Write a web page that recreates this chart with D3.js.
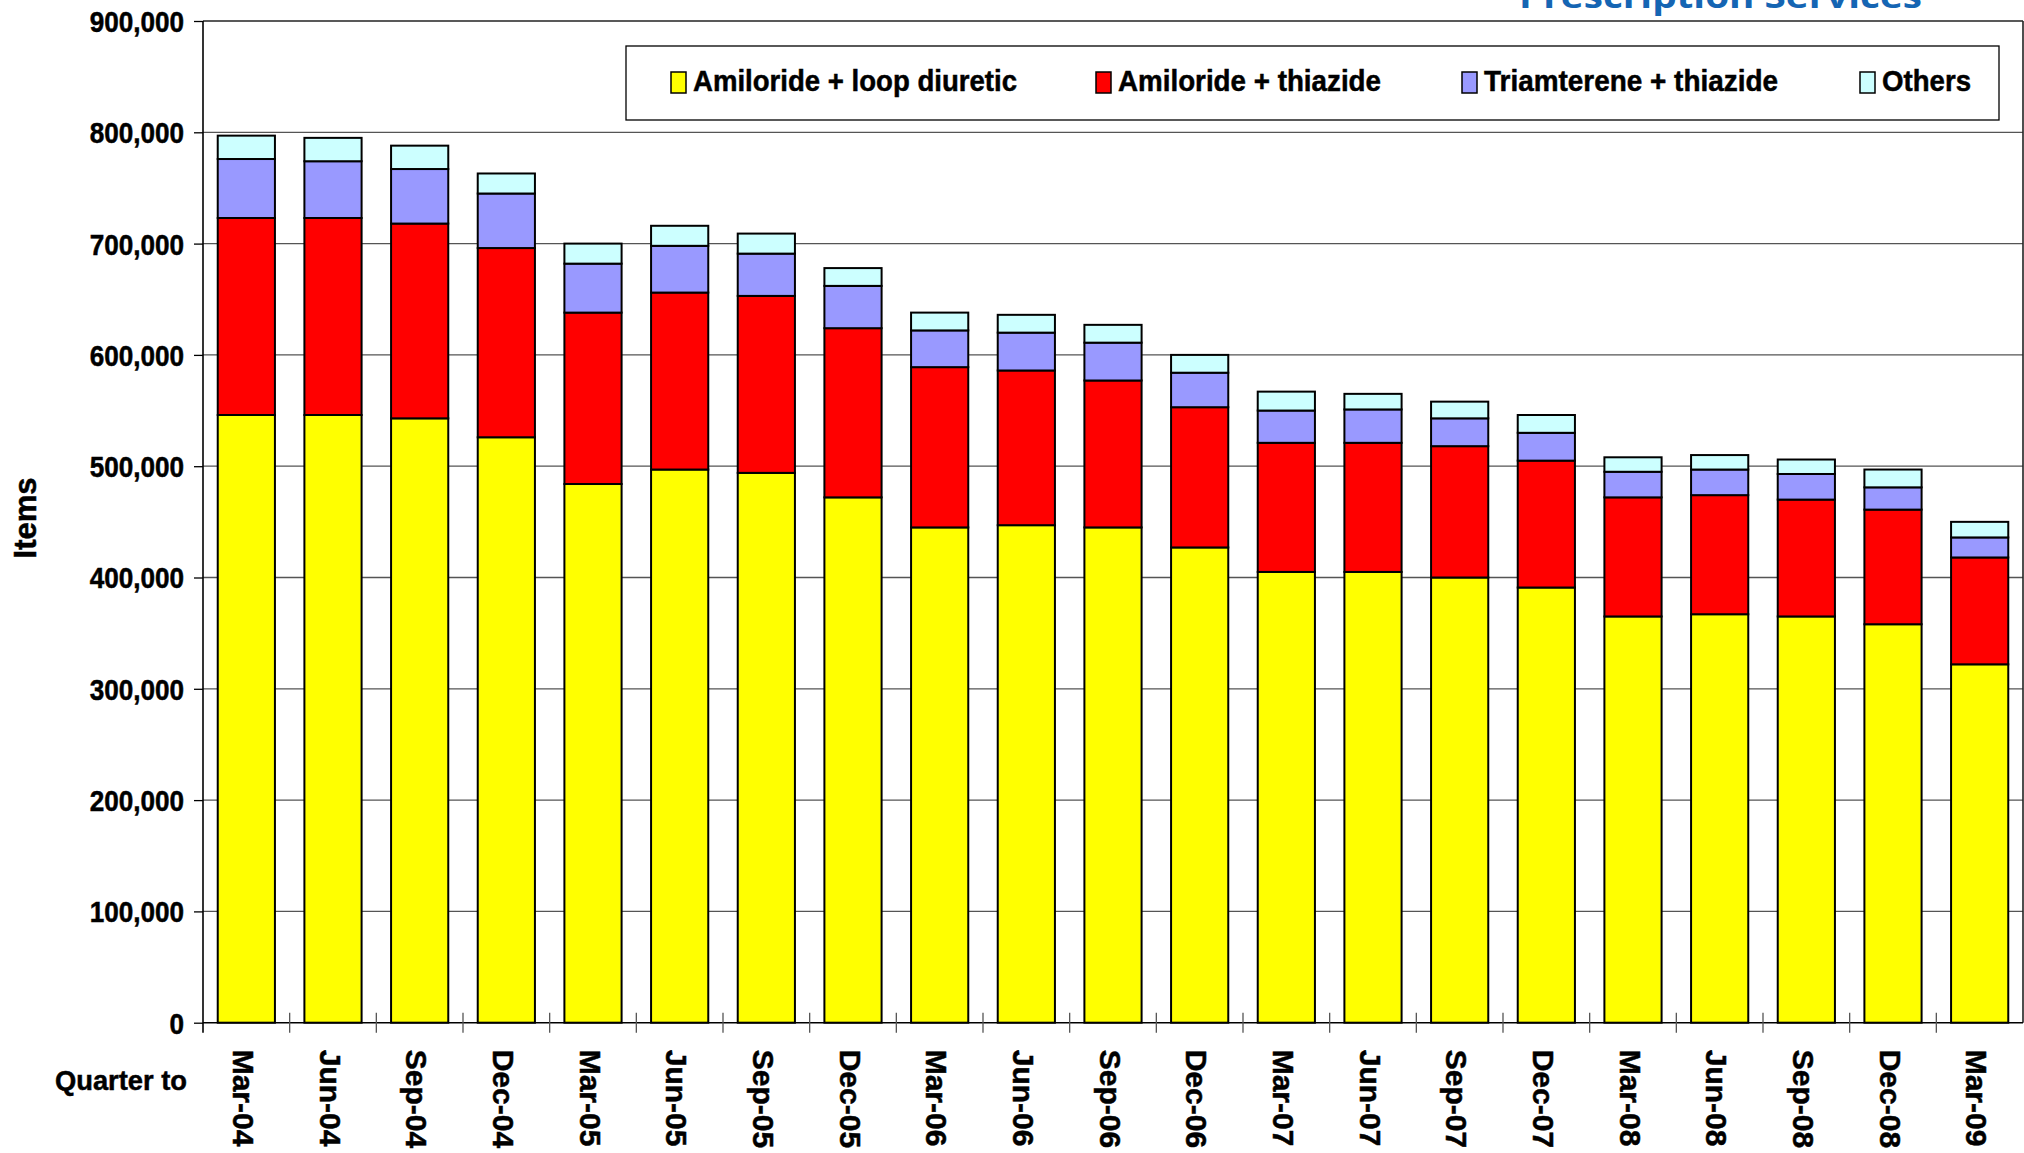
<!DOCTYPE html>
<html>
<head>
<meta charset="utf-8">
<script src="https://cdn.jsdelivr.net/npm/d3@7"></script>
<style>
  html, body { margin: 0; padding: 0; background: #ffffff; }
  svg { display: block; }
  text { font-family: "Liberation Sans", Arial, sans-serif; font-weight: bold; fill: #000; }
  .heavy { stroke: #000; stroke-width: 0.5px; }
</style>
</head>
<body>
<svg id="chart" width="2024" height="1153"></svg>
<script>
// ---- Data (items) ----
const quarters = ["Mar-04","Jun-04","Sep-04","Dec-04","Mar-05","Jun-05","Sep-05","Dec-05",
  "Mar-06","Jun-06","Sep-06","Dec-06","Mar-07","Jun-07","Sep-07","Dec-07",
  "Mar-08","Jun-08","Sep-08","Dec-08","Mar-09"];
const amilorideLoop = [546000,546000,543000,526000,484000,497000,494000,472000,445000,447000,445000,427000,
  405000,405000,400000,391000,365000,367000,365000,358000,322000];
const amilorideThiazide = [177000,177000,175000,170000,154000,159000,159000,152000,144000,139000,132000,126000,
  116000,116000,118000,114000,107000,107000,105000,103000,96000];
const triamtereneThiazide = [53000,51000,49000,49000,44000,42000,38000,38000,33000,34000,34000,31000,
  29000,30000,25000,25000,23000,23000,23000,20000,18000];
const others = [21000,21000,21000,18000,18000,18000,18000,16000,16000,16000,16000,16000,
  17000,14000,15000,16000,13000,13000,13000,16000,14000];
const seriesNames = ["Amiloride + loop diuretic","Amiloride + thiazide","Triamterene + thiazide","Others"];
const seriesColors = ["#FFFF00","#FF0000","#9999FF","#CCFFFF"];
const yTicks = [0,100000,200000,300000,400000,500000,600000,700000,800000,900000];
const titleText = "Prescription Services";
const yTitle = "Items";
const xTitle = "Quarter to";

// ---- Layout ----
const svg = d3.select("#chart");
const plotL = 203, plotR = 2023, plotT = 21, plotB = 1022.7;

const x = d3.scaleBand().domain(quarters).range([plotL, plotR]).paddingInner(0.34).paddingOuter(0.17);
const y = d3.scaleLinear().domain([0, 900000]).range([plotB, plotT]);

const keys = seriesNames;
const rows = quarters.map((q, i) => ({
  q,
  [keys[0]]: amilorideLoop[i],
  [keys[1]]: amilorideThiazide[i],
  [keys[2]]: triamtereneThiazide[i],
  [keys[3]]: others[i]
}));
const stacked = d3.stack().keys(keys)(rows);
const color = d3.scaleOrdinal().domain(keys).range(seriesColors);

// Title (partially cut off at the top, as in the source image)
svg.append("text")
  .attr("x", 1519).attr("y", 8)
  .attr("textLength", 403).attr("lengthAdjust", "spacingAndGlyphs")
  .style("font-family", "'Open Sans', 'Liberation Sans', sans-serif")
  .style("font-size", "33px").style("fill", "#1565b3")
  .text(titleText);

// Gridlines
svg.append("g").selectAll("line")
  .data(yTicks.filter(d => d > 0 && d < 900000))
  .join("line")
  .attr("x1", plotL).attr("x2", plotR)
  .attr("y1", d => y(d)).attr("y2", d => y(d))
  .attr("stroke", "#555").attr("stroke-width", 1.3);

// Plot border top & right
svg.append("line").attr("x1", plotL).attr("x2", plotR).attr("y1", y(900000)).attr("y2", y(900000))
  .attr("stroke", "#222").attr("stroke-width", 1.6);
svg.append("line").attr("x1", plotR).attr("x2", plotR).attr("y1", y(900000)).attr("y2", plotB)
  .attr("stroke", "#222").attr("stroke-width", 1.6);

// Bars
svg.append("g").selectAll("g")
  .data(stacked)
  .join("g")
  .attr("fill", d => color(d.key))
  .selectAll("rect")
  .data(d => d)
  .join("rect")
  .attr("x", d => x(d.data.q))
  .attr("width", x.bandwidth())
  .attr("y", d => y(d[1]))
  .attr("height", d => y(d[0]) - y(d[1]))
  .attr("stroke", "#000").attr("stroke-width", 2);

// Y axis
const yAxis = svg.append("g").attr("transform", `translate(${plotL},0)`)
  .call(d3.axisLeft(y).tickValues(yTicks).tickSize(9).tickPadding(10).tickFormat(d3.format(",")));
yAxis.select(".domain").attr("stroke", "#000").attr("stroke-width", 1.6)
  .attr("d", `M0,${plotT}V${plotB + 10}`);
yAxis.selectAll(".tick line").attr("stroke", "#000").attr("stroke-width", 1.3);
yAxis.selectAll(".tick text")
  .attr("class", "heavy")
  .style("font-family", "'Liberation Sans', Arial, sans-serif")
  .style("font-weight", "bold").style("font-size", "29px").attr("fill", "#000")
  .attr("dy", "0.36em")
  .each(function() {
    const w = this.getComputedTextLength();
    d3.select(this).attr("textLength", w * 0.9).attr("lengthAdjust", "spacingAndGlyphs");
  });

// X axis (baseline + boundary ticks)
svg.append("line").attr("x1", plotL).attr("x2", plotR).attr("y1", plotB).attr("y2", plotB)
  .attr("stroke", "#000").attr("stroke-width", 1.6);
const boundaries = d3.range(quarters.length + 1).map(i => plotL + i * x.step());
svg.append("g").selectAll("line").data(boundaries.slice(1, -1)).join("line")
  .attr("x1", d => d).attr("x2", d => d)
  .attr("y1", plotB - 10).attr("y2", plotB + 10)
  .attr("stroke", "#555").attr("stroke-width", 1.3);

const xAxis = svg.append("g").attr("transform", `translate(0,${plotB})`)
  .call(d3.axisBottom(x).tickSize(0).tickPadding(0));
xAxis.select(".domain").remove();
xAxis.selectAll(".tick text")
  .attr("class", "heavy")
  .style("font-family", "'Liberation Sans', Arial, sans-serif")
  .style("font-weight", "bold").style("font-size", "30px").attr("fill", "#000")
  .attr("text-anchor", "start")
  .attr("dominant-baseline", "central")
  .attr("dy", null)
  .attr("x", 0).attr("y", 0)
  .attr("transform", "translate(-3,27) rotate(90)");

// Axis titles
svg.append("text")
  .attr("class", "heavy")
  .attr("transform", "translate(36,518) rotate(-90)")
  .attr("text-anchor", "middle")
  .style("font-size", "31px")
  .text(yTitle);
svg.append("text")
  .attr("class", "heavy")
  .attr("x", 55).attr("y", 1090)
  .style("font-size", "28px")
  .attr("textLength", 132).attr("lengthAdjust", "spacingAndGlyphs")
  .text(xTitle);

// Legend
const legend = svg.append("g");
legend.append("rect").attr("x", 626).attr("y", 46).attr("width", 1373).attr("height", 74)
  .attr("fill", "#fff").attr("stroke", "#000").attr("stroke-width", 1.3);
const legX = [693, 1118, 1484, 1882];
const legW = [324, 263, 294, 89];
const items = legend.selectAll("g.item").data(keys).join("g").attr("class", "item")
  .attr("transform", (d, i) => `translate(${legX[i]},0)`);
items.append("rect").attr("x", -22).attr("y", 72).attr("width", 15).attr("height", 21)
  .attr("fill", d => color(d)).attr("stroke", "#000").attr("stroke-width", 1.5);
items.append("text").attr("x", 0).attr("y", 91)
  .attr("class", "heavy")
  .style("font-size", "30px")
  .attr("textLength", (d, i) => legW[i]).attr("lengthAdjust", "spacingAndGlyphs")
  .text(d => d);
</script>
</body>
</html>
